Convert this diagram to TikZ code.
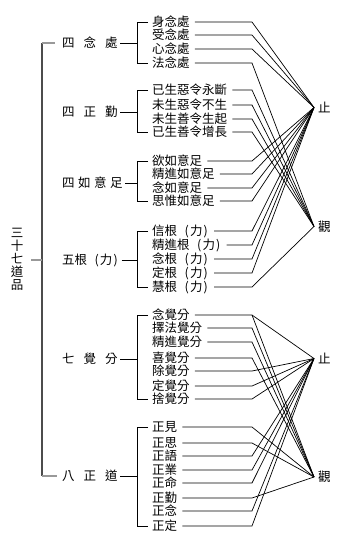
\documentclass[tikz,border=0pt]{standalone}
\usepackage{fontspec}
\setmainfont{Noto Sans CJK TC}
\newcommand\pk{\hspace{6.4pt}\makebox[6.4pt]{(}力\makebox[6.4pt]{)}}
\begin{document}
\begin{tikzpicture}[x=1pt,y=-1pt,
  cjk/.style={inner sep=0pt, font=\fontsize{12.5}{13}\selectfont, text height=10.4pt, text depth=0.9pt},
  item/.style={cjk, anchor=west},
  grp/.style={cjk, anchor=west},
  tgt/.style={cjk, anchor=west, inner xsep=4pt},
  ln/.style={line width=0.7pt, black},
  mainv/.style={line width=1.3pt, black!70},
  stub/.style={line width=1.2pt, black!40}]
\useasboundingbox (0,0) rectangle (345,539);
\fill[white] (0,0) rectangle (345,539);

% title
\node[inner sep=0pt, align=center, font=\fontsize{12.5}{13}\selectfont] (title) at (17,259) {三\\十\\七\\道\\品};

% main bracket
\coordinate (mt) at (42,43);
\coordinate (mb) at (42,476);
\coordinate (mm) at (42,260);
\draw[mainv] (mt) -- (mb);
\draw[stub] (mt) -- ++(13,0);
\draw[stub] (mb) -- ++(15,0);
\draw[stub, shorten <=8pt] (title.east |- mm) -- (mm);

% elbow x
\coordinate (ex) at (252,0);

% targets
\node[tgt] (zA) at (314,107.5) {止};
\node[tgt] (gA) at (314,226.5) {觀};
\node[tgt] (zB) at (314,358.5) {止};
\node[tgt] (gB) at (314,477) {觀};

% group labels
\node[grp] (g1) at (62,43)  {四\hspace{9pt}念\hspace{9pt}處};
\node[grp] (g2) at (62,112) {四\hspace{9pt}正\hspace{9pt}勤};
\node[grp] (g3) at (62,183) {四\hspace{3.5pt}如\hspace{3.5pt}意\hspace{3.5pt}足};
\node[grp] (g4) at (62,260) {五根\pk};
\node[grp] (g5) at (62,359) {七\hspace{9pt}覺\hspace{9pt}分};
\node[grp] (g6) at (62,476) {八\hspace{9pt}正\hspace{9pt}道};

% items and their connectors
\foreach \n/\y/\t/\tg in {
  a1/22/身念處/zA, a2/35/受念處/zA, a3/49/心念處/zA, a4/63/法念處/gA,
  b1/90/已生惡令永斷/gA, b2/105/未生惡令不生/gA, b3/119/未生善令生起/gA, b4/132/已生善令增長/gA,
  c1/161/欲如意足/zA, c2/174/精進如意足/zA, c3/188/念如意足/zA, c4/201/思惟如意足/zA,
  d1/231/信根\pk/zA, d2/245/精進根\pk/zA, d3/259/念根\pk/zA, d4/273/定根\pk/zA, d5/287/慧根\pk/gA,
  e1/315/念覺分/zB, e2/328/擇法覺分/gB, e3/342/精進覺分/gB, e4/358/喜覺分/gB,
  e5/371/除覺分/zB, e6/386/定覺分/zB, e7/399/捨覺分/zB,
  f1/427/正見/gB, f2/443/正思/gB, f3/456/正語/zB, f4/470/正業/zB,
  f5/483/正命/zB, f6/498/正勤/gB, f7/511/正念/zB, f8/526/正定/zB}{
  \node[item] (\n) at (152,\y) {\t};
  \draw[ln, shorten <=5pt] (\n.east) -- (\n.east -| ex) -- (\tg.west);
}
\draw[ln] (e1.east -| ex) -- (gB.west);

% group brackets
\foreach \g/\f/\l in {g1/a1/a4, g2/b1/b4, g3/c1/c4, g4/d1/d5, g5/e1/e7, g6/f1/f8}{
  \coordinate (\g b) at (137,0);
  \draw[ln, shorten <=2.5pt] (\g.east) -- (\g.east -| \g b);
  \draw[ln, shorten <=4pt, shorten >=4pt] (\f.west) -- (\f.west -| \g b) -- (\l.west -| \g b) -- (\l.west);
}
\end{tikzpicture}
\end{document}
